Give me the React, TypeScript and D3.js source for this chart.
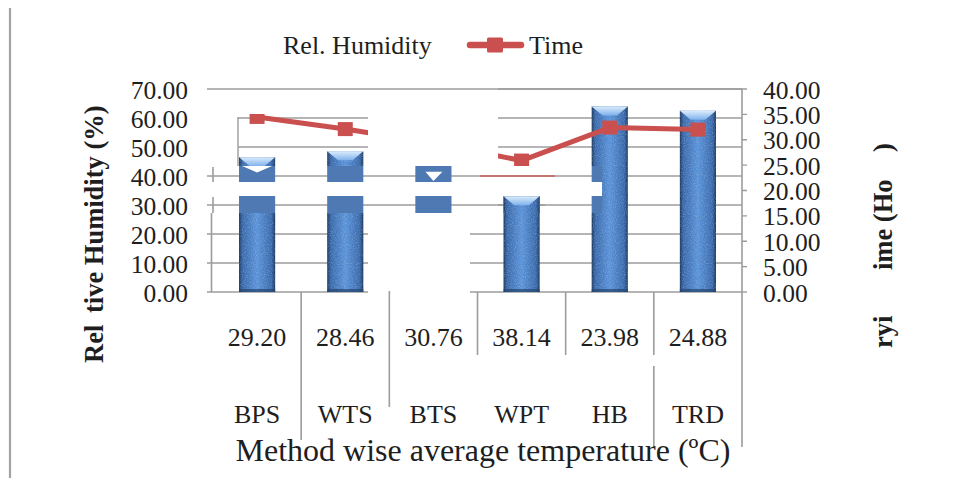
import React from "react";
import * as d3 from "d3";

// Drying methods, their average temperature and the two measured series
const categories = ["BPS", "WTS", "BTS", "WPT", "HB", "TRD"];
const temperatures = ["29.20", "28.46", "30.76", "38.14", "23.98", "24.88"];
const humidity = [46.5, 48.5, 41.5, 33.0, 64.0, 62.5];
const dryingTime = [34.5, 32.1, 29.3, 25.9, 32.4, 32.0];
const humidityTicks = [0, 10, 20, 30, 40, 50, 60, 70];
const timeTicks = [0, 5, 10, 15, 20, 25, 30, 35, 40];

const W = 963;
const H = 481;
const PL = 213;
const PR = 742;
const PT = 89;
const PB = 292;

const FONT = "'Liberation Serif', 'Times New Roman', serif";
const INK = "#1e1e1e";
const GRID = "#9c9c9c";
const LINE = "#c9504e";
const FLAT = "#4e79b2";

// Parts of the plot area that survive in the printed copy
const pieces = [
  { x0: 238, x1: 368, y0: 114, y1: 166 },
  { x0: 498, x1: 752, y0: 80, y1: 166 },
  { x0: 204, x1: 368, y0: 213, y1: 296 },
  { x0: 470, x1: 752, y0: 213, y1: 296 },
  { x0: 602, x1: 752, y0: 80, y1: 296 },
  { x0: 498, x1: 545, y0: 193, y1: 213 },
];

// Flattened bands across the 40 and 30 gridlines
const strips = [
  { value: 40, y0: 166, y1: 182 },
  { value: 30, y0: 196, y1: 213 },
];
const stripEnd = 602;

// Vertical separators of the category table (band boundary index, extent)
const dividers = [
  { i: 1, y0: 292, y1: 440 },
  { i: 2, y0: 291, y1: 407 },
  { i: 3, y0: 292, y1: 355 },
  { i: 4, y0: 292, y1: 355 },
  { i: 5, y0: 292, y1: 355 },
  { i: 5, y0: 366, y1: 447 },
  { i: 6, y0: 292, y1: 447 },
];

function Bar({ x0, w, top, bottom }: { x0: number; w: number; top: number; bottom: number }) {
  const bev = Math.min(9, (bottom - top) / 2);
  const inset = w * 0.3;
  return (
    <g>
      <rect x={x0} y={top} width={w} height={bottom - top} fill="url(#barBody)" />
      <rect x={x0} y={top} width={w} height={bottom - top} fill="url(#barGrain)" opacity={0.35} />
      <polygon
        points={`${x0},${top} ${x0 + w},${top} ${x0 + w - inset},${top + bev} ${x0 + inset},${top + bev}`}
        fill="url(#barTop)"
      />
      <rect x={x0} y={bottom - 3} width={w} height={3} fill="#24446f" opacity={0.7} />
    </g>
  );
}

export default function App() {
  const x = d3.scaleBand<string>().domain(categories).range([PL, PR]);
  const yL = d3.scaleLinear().domain([0, 70]).range([PB, PT]);
  const yR = d3.scaleLinear().domain([0, 40]).range([PB, PT]);
  const barW = x.bandwidth() * 0.41;
  const cx = (c: string) => (x(c) as number) + x.bandwidth() / 2;
  const linePath =
    d3
      .line<number>()
      .x((_, i) => cx(categories[i]))
      .y((d) => yR(d))(dryingTime) || "";
  const boundary = (i: number) => PL + x.step() * i;

  return (
    <svg
      width={W}
      height={H}
      viewBox={`0 0 ${W} ${H}`}
      style={{ position: "fixed", left: 0, top: 0, background: "#fff" }}
      fontFamily={FONT}
    >
      <defs>
        <linearGradient id="barBody" x1="0" x2="1" y1="0" y2="0">
          <stop offset="0" stopColor="#1c385f" />
          <stop offset="0.1" stopColor="#3a6aab" />
          <stop offset="0.5" stopColor="#5b93d9" />
          <stop offset="0.9" stopColor="#3a6aab" />
          <stop offset="1" stopColor="#1c385f" />
        </linearGradient>
        <linearGradient id="barTop" x1="0" x2="0" y1="0" y2="1">
          <stop offset="0" stopColor="#dcecfc" />
          <stop offset="1" stopColor="#7fb2ec" />
        </linearGradient>
        <filter id="grainF" x="0" y="0" width="1" height="1">
          <feTurbulence type="fractalNoise" baseFrequency="0.9" numOctaves="2" seed="3" />
          <feColorMatrix type="matrix" values="0 0 0 0 0.85  0 0 0 0 0.92  0 0 0 0 1  0 0 0 1.6 -0.7" />
        </filter>
        <pattern id="barGrain" patternUnits="userSpaceOnUse" width="120" height="240">
          <rect width="120" height="240" filter="url(#grainF)" />
        </pattern>
        <clipPath id="pieceClip">
          {pieces.map((p, i) => (
            <rect key={i} x={p.x0} y={p.y0} width={p.x1 - p.x0} height={p.y1 - p.y0} />
          ))}
        </clipPath>
      </defs>

      {/* page border on the left */}
      <line x1={10} x2={10} y1={8} y2={478} stroke="#a3a3a3" strokeWidth={2.2} />

      {/* legend */}
      <text x={283} y={54} fontSize={26} fill={INK}>
        Rel. Humidity
      </text>
      <line x1={470} x2={521} y1={45} y2={45} stroke={LINE} strokeWidth={6.5} strokeLinecap="round" />
      <rect x={487} y={37.5} width={16} height={15} fill={LINE} rx={1.5} />
      <text x={529} y={54} fontSize={26} fill={INK}>
        Time
      </text>

      {/* flattened bands along the 40 and 30 gridlines */}
      {strips.map((s) => {
        const gy = yL(s.value);
        return (
          <g key={s.value}>
            <line x1={207} x2={stripEnd} y1={gy} y2={gy} stroke={GRID} strokeWidth={1.6} />
            <line x1={213} x2={213} y1={s.y0 + 1} y2={s.y1} stroke={GRID} strokeWidth={1.6} />
            {categories.map((c, i) => {
              const x0 = cx(c) - barW / 2;
              const x1 = Math.min(x0 + barW, stripEnd);
              if (yL(humidity[i]) >= s.y1 || x0 >= stripEnd) return null;
              return <rect key={c} x={x0} y={s.y0} width={x1 - x0} height={s.y1 - s.y0} fill={FLAT} />;
            })}
          </g>
        );
      })}
      {/* bevel notches left inside the upper band */}
      <polygon
        points={`${cx("BPS") - 15},166 ${cx("BPS") + 15},166 ${cx("BPS")},172.5`}
        fill="#fff"
      />
      <polygon
        points={`${cx("BTS") - 8},${yL(humidity[2])} ${cx("BTS") + 9},${yL(humidity[2])} ${cx("BTS")},181`}
        fill="#fff"
      />
      <line x1={480} x2={555} y1={yL(40)} y2={yL(40)} stroke="#c27674" strokeWidth={1.8} />

      {/* plot body, visible pieces only */}
      <g clipPath="url(#pieceClip)">
        {humidityTicks.map((t) => (
          <line key={t} x1={207} x2={PR} y1={yL(t)} y2={yL(t)} stroke={GRID} strokeWidth={1.6} />
        ))}
        <line x1={211.5} x2={211.5} y1={PT} y2={PB} stroke={GRID} strokeWidth={1.6} />
        <line x1={PR} x2={PR} y1={PT} y2={PB} stroke={GRID} strokeWidth={1.6} />
        {timeTicks.map((t) => (
          <line key={t} x1={PR} x2={PR + 5} y1={yR(t)} y2={yR(t)} stroke={GRID} strokeWidth={1.4} />
        ))}
        {categories.map((c, i) => (
          <Bar key={c} x0={cx(c) - barW / 2} w={barW} top={yL(humidity[i])} bottom={PB} />
        ))}
        <path d={linePath} fill="none" stroke={LINE} strokeWidth={5} strokeLinejoin="round" />
        {categories.map((c, i) => (
          <rect key={c} x={cx(c) - 7.5} y={yR(dryingTime[i]) - 7} width={15} height={14} fill={LINE} />
        ))}
      </g>

      {/* top gridline and the edge of the upper-left piece */}
      <line x1={207} x2={PR} y1={yL(70)} y2={yL(70)} stroke={GRID} strokeWidth={1.6} />
      <line x1={238} x2={238} y1={117} y2={166} stroke={GRID} strokeWidth={1.4} />

      {/* left axis labels */}
      {humidityTicks.map((t) => (
        <text key={t} x={188} y={yL(t) + 10} fontSize={25.5} fill={INK} textAnchor="end">
          {t.toFixed(2)}
        </text>
      ))}
      {/* right axis labels */}
      {timeTicks.map((t) => (
        <text key={t} x={763} y={yR(t) + 9.5} fontSize={25.5} fill={INK}>
          {t.toFixed(2)}
        </text>
      ))}

      {/* axis titles */}
      <g fontWeight="bold" fontSize={26.5} fill={INK}>
        <text transform="translate(103,363) rotate(-90)">Rel</text>
        <text transform="translate(103,313) rotate(-90)">tive Humidity (%)</text>
        <text transform="translate(892,348) rotate(-90)">ryi</text>
        <text transform="translate(892,270) rotate(-90)">ime (Ho</text>
        <text transform="translate(892,152) rotate(-90)">)</text>
      </g>

      {/* category table under the plot */}
      {dividers.map((d, k) => (
        <line key={k} x1={boundary(d.i)} x2={boundary(d.i)} y1={d.y0} y2={d.y1} stroke={GRID} strokeWidth={1.6} />
      ))}
      {categories.map((c, i) => (
        <g key={c} fontSize={26} fill={INK} textAnchor="middle">
          <text x={cx(c)} y={346}>
            {temperatures[i]}
          </text>
          <text x={cx(c)} y={423}>
            {c}
          </text>
        </g>
      ))}
      <text x={483} y={461} fontSize={32} fill={INK} textAnchor="middle">
        Method wise average temperature (ºC)
      </text>
    </svg>
  );
}
